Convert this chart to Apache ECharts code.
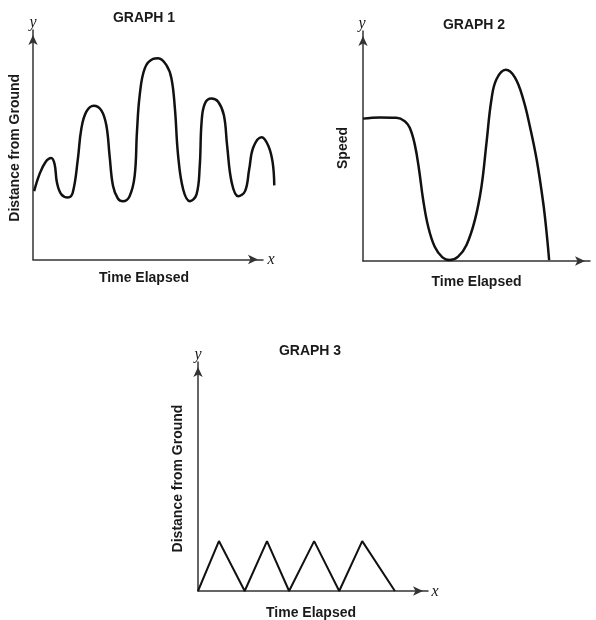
<!DOCTYPE html>
<html>
<head>
<meta charset="utf-8">
<script src="https://cdn.jsdelivr.net/npm/echarts@6/dist/echarts.min.js"></script>
<style>
  html, body { margin: 0; padding: 0; background: #fff; }
  #main { width: 596px; height: 620px; }
</style>
</head>
<body>
<div id="main"></div>
<script>
// graph 1 : distance from ground (wavy)
var g1Time = [0.5, 2.8, 5.4, 7.9, 9.4, 10.4, 12.3, 15.2, 17.3, 19.5, 21.0, 23.2, 26.4, 29.7, 31.9, 33.3, 34.8, 36.9, 39.1, 42.0, 44.2, 45.2, 46.4, 48.6, 52.2, 54.4, 58.0, 60.2, 61.7, 63.1, 65.3, 68.2, 71.1, 72.5, 73.3, 74.7, 77.6, 80.5, 83.0, 84.4, 86.4, 89.2, 92.2, 94.0, 95.8, 99.4, 102.3, 104.2, 104.9];
var g1Dist = [29.8, 37.1, 42.4, 44.2, 41.5, 33.6, 28.4, 27.0, 29.2, 43.7, 56.9, 64.4, 67.0, 65.0, 58.4, 45.2, 32.0, 26.6, 25.4, 27.6, 36.4, 55.6, 71.6, 83.3, 87.4, 87.7, 84.7, 78.9, 65.7, 45.2, 30.5, 25.4, 28.4, 40.8, 59.9, 67.9, 70.1, 68.7, 62.8, 49.6, 33.5, 27.6, 29.8, 39.3, 48.9, 53.3, 49.6, 42.3, 32.3];

// graph 2 : speed
var g2Time = [0, 7.4, 14.7, 18.4, 20.6, 22.8, 24.7, 26.5, 28.7, 31.6, 35.0, 38.2, 41.9, 45.6, 49.3, 52.2, 54.4, 56.6, 58.8, 62.9, 66.9, 70.6, 73.5, 76.5, 79.4, 80.9, 82.0];
var g2Speed = [61.9, 62.4, 62.3, 60.8, 57.9, 50.7, 39.7, 26.6, 15.0, 6.2, 1.6, 0.4, 1.9, 7.0, 17.9, 32.4, 51.4, 70.3, 79.0, 83.1, 79.8, 70.3, 58.6, 44.1, 25.2, 12.1, 0.4];

// graph 3 : distance from ground (zig-zag)
var g3Time = [0, 9.1, 20.3, 30.0, 39.6, 50.5, 61.4, 71.4, 85.6];
var g3Dist = [0, 21.8, 0, 21.8, 0, 21.8, 0, 21.8, 0];

var titles = ['GRAPH 1', 'GRAPH 2', 'GRAPH 3'];
var yNames = ['Distance from Ground', 'Speed', 'Distance from Ground'];
var xName = 'Time Elapsed';

function pairs(xs, ys) {
    var out = [];
    for (var i = 0; i < xs.length; i++) out.push([xs[i], ys[i]]);
    return out;
}

var FONT = 'Liberation Sans, Arial, sans-serif';
var SERIF = 'Liberation Serif, Times New Roman, serif';

var axisLine = {
    lineStyle: { color: '#333', width: 1.5 },
    symbol: ['none', 'arrow'],
    symbolSize: [7, 10],
    symbolOffset: [0, -5]
};
var nameStyle = function (pad) {
    return { fontFamily: FONT, fontWeight: 'bold', fontSize: 14, color: '#1a1a1a', padding: pad || 0 };
};

function xAx(i, gap, pad) {
    return {
        type: 'value', gridIndex: i, min: 0, max: 100,
        name: xName, nameLocation: 'middle', nameGap: gap, nameTextStyle: nameStyle(pad),
        axisLine: axisLine, axisTick: { show: false }, axisLabel: { show: false }, splitLine: { show: false }
    };
}
function yAx(i, gap, pad) {
    return {
        type: 'value', gridIndex: i, min: 0, max: 100,
        name: yNames[i], nameLocation: 'middle', nameGap: gap, nameTextStyle: nameStyle(pad),
        axisLine: axisLine, axisTick: { show: false }, axisLabel: { show: false }, splitLine: { show: false }
    };
}
// hidden axis pair so the graph 1 curve can run past the arrow tip
function hidden(i, max) {
    return { type: 'value', gridIndex: i, min: 0, max: max, show: false, splitLine: { show: false } };
}

function label(text, left, top, serif) {
    return {
        text: text, left: left, top: top, textAlign: 'center', padding: 0,
        textStyle: serif
            ? { fontFamily: SERIF, fontStyle: 'italic', fontSize: 16, fontWeight: 'normal', color: '#1a1a1a' }
            : { fontFamily: FONT, fontSize: 14, fontWeight: 'bold', color: '#1a1a1a' }
    };
}

var chart = echarts.init(document.getElementById('main'));
var option = {
    backgroundColor: '#fff',
    animation: false,
    title: [
        label(titles[0], 144, 11),
        label(titles[1], 474, 18),
        label(titles[2], 310, 344),
        label('y', 33, 15, true),
        label('x', 271, 252, true),
        label('y', 362, 16, true),
        label('y', 198, 347, true),
        label('x', 435, 584, true)
    ],
    grid: [
        { left: 33, top: 30, width: 230, height: 229.5, outerBoundsMode: 'none' },
        { left: 363, top: 31, width: 227, height: 230, outerBoundsMode: 'none' },
        { left: 198, top: 362, width: 230, height: 229, outerBoundsMode: 'none' },
        { left: 33, top: 30, width: 243.8, height: 229.5, outerBoundsMode: 'none' }
    ],
    xAxis: [xAx(0, 12, [0, 8, 0, 0]), xAx(1, 14), xAx(2, 15, [0, 4, 0, 0]), hidden(3, 106)],
    yAxis: [yAx(0, 11, [0, 6, 0, 0]), yAx(1, 13, [0, 4, 0, 0]), yAx(2, 13, [0, 4, 0, 0]), hidden(3, 100)],
    series: [
        {
            name: titles[0], type: 'line', xAxisIndex: 3, yAxisIndex: 3,
            data: pairs(g1Time, g1Dist), smooth: 0.4, showSymbol: false,
            lineStyle: { color: '#111', width: 2.5 }
        },
        {
            name: titles[1], type: 'line', xAxisIndex: 1, yAxisIndex: 1,
            data: pairs(g2Time, g2Speed), smooth: 0.4, showSymbol: false, clip: false,
            lineStyle: { color: '#111', width: 2.5 }
        },
        {
            name: titles[2], type: 'line', xAxisIndex: 2, yAxisIndex: 2,
            data: pairs(g3Time, g3Dist), showSymbol: false, clip: false,
            lineStyle: { color: '#111', width: 2 }
        }
    ]
};
chart.setOption(option);
</script>
</body>
</html>
